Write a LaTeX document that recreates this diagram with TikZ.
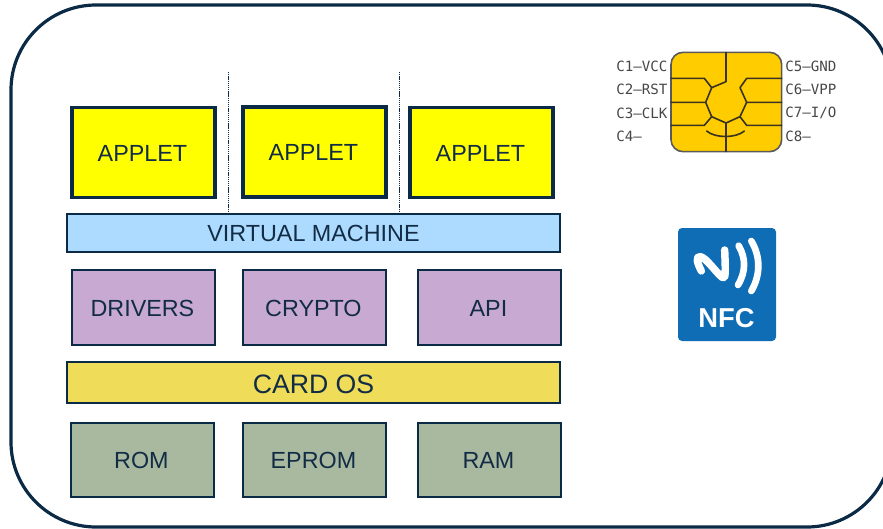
\documentclass[tikz,border=0pt]{standalone}
\usepackage{fontspec}
\setmainfont{Liberation Sans}
\newfontfamily\chipfont{DejaVu Sans Mono}
\definecolor{ink}{HTML}{0B2A45}
\definecolor{txt}{HTML}{132C45}
\definecolor{appletc}{HTML}{FFFF00}
\definecolor{vmc}{HTML}{ADDBFF}
\definecolor{midc}{HTML}{C8A9D2}
\definecolor{osc}{HTML}{EFDD5A}
\definecolor{memc}{HTML}{A8B9A0}
\definecolor{chipc}{HTML}{FFCC00}
\definecolor{chipl}{HTML}{3A3222}
\definecolor{nfcc}{HTML}{0F6DB5}
\tikzset{
 x=0.75pt,y=-0.75pt,
 blk/.style={draw=ink,line width=1.9pt,inner sep=0pt,text=txt,font=\fontsize{17.5pt}{20pt}\selectfont,text height=13.2pt,minimum width=107.25pt,anchor=center},
 nudged/.style={blk,execute at end node={\hspace{1.6pt}}},
 applet/.style={nudged,fill=appletc,line width=2.4pt,minimum width=107.25pt,minimum height=68pt,text height=14pt},
 midbox/.style={nudged,fill=midc,minimum height=56.25pt},
 membox/.style={nudged,fill=memc,minimum height=55.5pt},
 bar/.style={blk,line width=1.4pt,minimum width=369.75pt},
 chiplabel/.style={inner sep=0pt,text=black!72,font=\chipfont\fontsize{10.6pt}{12pt}\selectfont},
 sep/.style={draw=ink,line width=0.5pt,dash pattern=on 1pt off 0.6pt},
 chipline/.style={draw=chipl,line width=1.2pt,line join=round,line cap=round},
}
\begin{document}
\begin{tikzpicture}
\useasboundingbox (0,0) rectangle (883,529);
\clip (0,0) rectangle (883,529);
% card
\draw[ink,line width=2.4pt,rounded corners=63.75pt] (11,5) rectangle (892,527);
% separators
\coordinate (s1) at (228,72);
\coordinate (s2) at (399,72);
% bars
\node[bar,fill=vmc,minimum height=28.5pt] (vm) at (313.5,233) {VIRTUAL MACHINE};
\node[bar,fill=osc,minimum height=30.75pt,font=\fontsize{20pt}{24pt}\selectfont,text height=16pt] (os) at (313.5,382.5) {CARD OS};
\draw[sep] (s1) -- (s1 |- vm.north);
\draw[sep] (s2) -- (s2 |- vm.north);
% applets
\node[applet] (a1) at (143.5,152.5) {APPLET};
\node[applet,minimum height=67.5pt,text height=13.2pt] (a2) at (314.5,152) {APPLET};
\node[applet] (a3) at (481.5,152.5) {APPLET};
% middle
\node[midbox] (d) at (143.5,307.5) {DRIVERS};
\node[midbox] (c) at (314.5,307.5) {CRYPTO};
\node[midbox] (api) at (489.5,307.5) {API};
% memory
\node[membox] (rom) at (142.5,460) {ROM};
\node[membox] (eprom) at (314.5,460) {EPROM};
\node[membox] (ram) at (489.5,460) {RAM};
% chip
\begin{scope}[shift={(660,45)},x=0.25pt,y=-0.25pt]
\draw[draw=black!65,fill=chipc,line width=1.2pt,rounded corners=9pt] (33,22) rectangle (365,320);
\draw[chipline] (198,22) -- (198,110) -- (155,128) -- (133,100) -- (33,100);
\draw[chipline] (155,128) -- (137,172) -- (33,172);
\draw[chipline] (137,172) -- (155,215) -- (133,241) -- (33,241);
\draw[chipline] (155,215) -- (198,234) -- (198,320);
\draw[chipline] (198,234) -- (240,215) -- (260,241) -- (365,241);
\draw[chipline] (240,215) -- (260,172) -- (365,172);
\draw[chipline] (260,172) -- (240,128) -- (260,100) -- (365,100);
\draw[chipline] (140,258) .. controls (165,280) and (228,280) .. (253,258);
\end{scope}
\node[chiplabel,anchor=west] (l1) at (616,66) {C1—VCC};
\node[chiplabel,anchor=west] (l2) at (616,89) {C2—RST};
\node[chiplabel,anchor=west] (l3) at (616,113) {C3—CLK};
\node[chiplabel,anchor=west] (l4) at (616,136) {C4—};
\node[chiplabel,anchor=west] (r1) at (785,66) {C5—GND};
\node[chiplabel,anchor=west] (r2) at (785,89) {C6—VPP};
\node[chiplabel,anchor=west] (r3) at (785,113) {C7—I/O};
\node[chiplabel,anchor=west] (r4) at (785,136) {C8—};
% NFC
\fill[nfcc,rounded corners=3pt] (678,228) rectangle (776,341);
\begin{scope}[shift={(660,215)},x=0.25pt,y=-0.25pt]
\draw[white,line width=5.6pt,line cap=round,line join=round] (124,168) .. controls (112,145) and (105,122) .. (122,125) .. controls (140,130) and (170,175) .. (188,188) .. controls (197,192) and (197,175) .. (194,105);
\draw[white,line width=5pt,line cap=round] (236,92) .. controls (258,130) and (258,170) .. (234,210);
\draw[white,line width=5pt,line cap=round] (274,78) .. controls (302,125) and (302,180) .. (274,228);
\end{scope}
\node[inner sep=0pt,text=white,font=\bfseries\fontsize{20.5pt}{24pt}\selectfont] (nfc) at (726.5,318) {NFC};
\end{tikzpicture}
\end{document}
